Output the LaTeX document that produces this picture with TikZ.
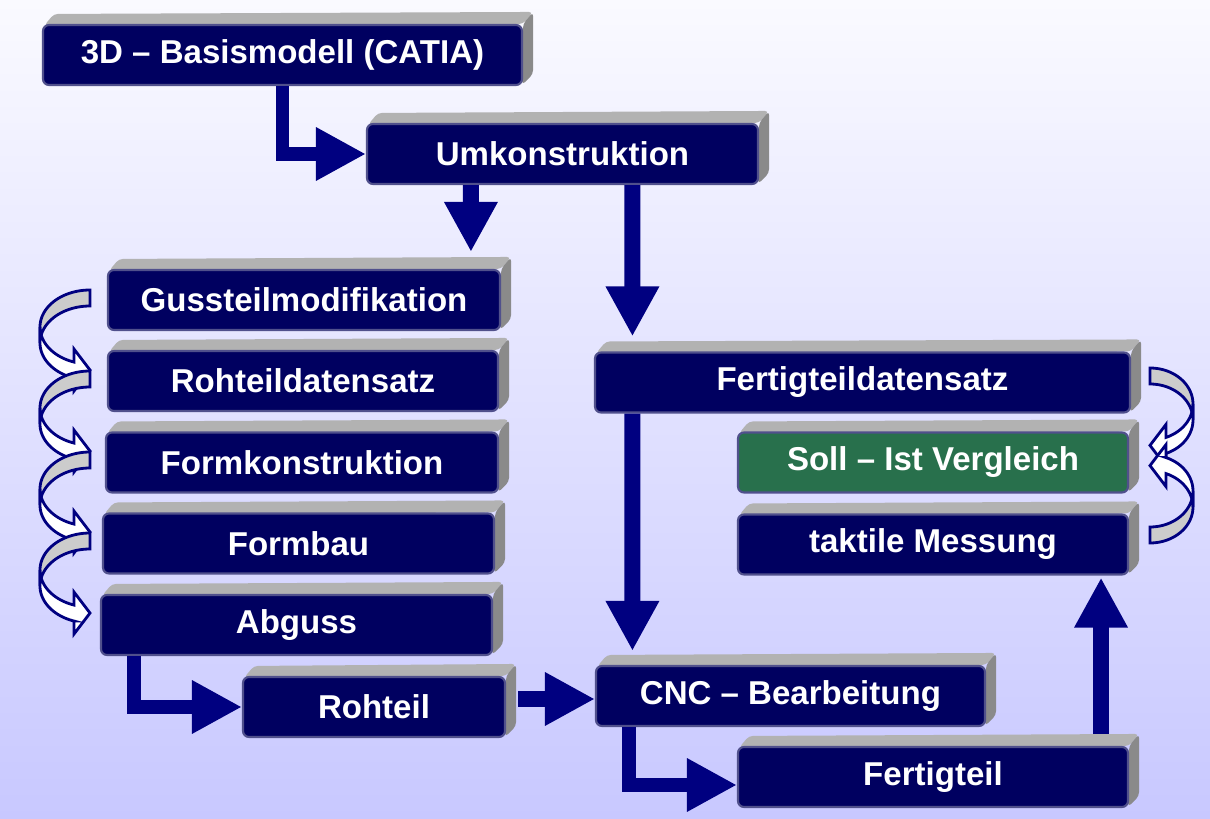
\documentclass[tikz,border=0pt]{standalone}
\usepackage{fontspec}
\setmainfont{Liberation Sans}
\usetikzlibrary{arrows.meta,calc}
\definecolor{boxnavy}{RGB}{0,0,96}
\definecolor{boxedge}{RGB}{80,80,140}
\definecolor{arrownavy}{RGB}{0,0,128}
\definecolor{sollgreen}{RGB}{40,112,76}
\definecolor{slabtop}{RGB}{178,178,178}
\definecolor{slabside}{RGB}{138,138,138}
\definecolor{bendgray}{RGB}{204,204,204}
\definecolor{bgtop}{RGB}{250,250,255}
\definecolor{bgbottom}{RGB}{200,200,255}
\pgfdeclarelayer{background}
\pgfsetlayers{background,main}

% #1,#2 start of the band, #3,#4 directions, #5,#6 radii
\newcommand{\bendarrow}[6]{%
  \pgfmathsetmacro{\be}{acos(-16/#5)}%
  \pgfmathsetmacro{\ya}{#2+(#4)*#6*(1+sin(\be))}%
  \pgfmathsetmacro{\yb}{\ya+(#4)*16}%
  \pgfmathsetmacro{\ym}{(\ya+\yb)/2}%
  \pgfmathsetmacro{\hx}{#1-(#3)*16}%
  \filldraw[bendback] plot[domain=270:180,samples=30] ({#1+(#3)*#5*cos(\x)},{#2+(#4)*#6*(1+sin(\x))})
    -- plot[domain=180:270,samples=30] ({#1+(#3)*#5*cos(\x)},{#2+(#4)*16+(#4)*#6*(1+sin(\x))}) -- cycle;
  \filldraw[bendfront] plot[domain=180:\be,samples=30] ({#1+(#3)*#5*cos(\x)},{#2+(#4)*#6*(1+sin(\x))})
    -- (\hx,{\ym-(#4)*21}) -- (#1,\ym) -- (\hx,{\ym+(#4)*21}) -- (\hx,\yb)
    -- plot[domain=\be:180,samples=30] ({#1+(#3)*#5*cos(\x)},{#2+(#4)*16+(#4)*#6*(1+sin(\x))}) -- cycle;
}

\begin{document}
\begin{tikzpicture}[x=0.1mm,y=-0.1mm,
  box/.style={draw=boxedge, line width=0.6pt, fill=boxnavy, rounded corners=0.6mm,
    minimum height=6mm, inner sep=0pt, text=white, font=\fontsize{9.4}{11}\selectfont\bfseries},
  flow/.style={arrownavy, line width=1.6mm, -{Triangle[length=5mm,width=5mm]}},
  flowL/.style={flow, line width=1.35mm},
  bendback/.style={fill=bendgray, draw=arrownavy, line width=0.8pt},
  bendfront/.style={fill=white, draw=arrownavy, line width=0.8pt}]
\useasboundingbox (0,0) rectangle (1210,819);

\node[box, minimum width=47.9mm] (basis) at (282.5,55) {3D -- Basismodell (CATIA)};
\node[box, minimum width=39.1mm] (umk) at (562.5,154) {Umkonstruktion};
\node[box, minimum width=39.2mm] (guss) at (304,300) {Gussteilmodifikation};
\node[box, minimum width=39mm] (rtds) at (303,381) {Rohteildatensatz};
\node[box, minimum width=39.2mm] (formk) at (302,462.5) {Formkonstruktion};
\node[box, minimum width=39.1mm] (formbau) at (298.5,543.5) {Formbau};
\node[box, minimum width=39.1mm] (abguss) at (296.5,625) {Abguss};
\node[box, minimum width=26.2mm] (rohteil) at (374,707) {Rohteil};
\node[box, minimum width=38.9mm] (cnc) at (790.5,696) {CNC -- Bearbeitung};
\node[box, minimum width=53.5mm] (fds) at (862.5,382.5) {Fertigteildatensatz};
\node[box, minimum width=39mm, fill=sollgreen] (soll) at (933,462.5) {Soll -- Ist Vergleich};
\node[box, minimum width=39mm] (takt) at (933,544.5) {taktile Messung};
\node[box, minimum width=39mm] (ft) at (933,777) {Fertigteil};

\begin{pgfonlayer}{background}
\fill[top color=bgtop, bottom color=bgbottom] (0,0) rectangle (1210,819);
\foreach \n in {basis,umk,guss,rtds,formk,formbau,abguss,rohteil,cnc,fds,soll,takt,ft}{
  \fill[slabtop, rounded corners=0.4mm] ($(\n.north west)+(2,2)$) -- ($(\n.north west)+(12,-10)$)
    -- ($(\n.north east)+(10,-12)$) -- (\n.north east) -- cycle;
  \fill[slabside, rounded corners=0.4mm] (\n.north east) -- ($(\n.north east)+(10,-12)$)
    -- ($(\n.south east)+(10,-12)$) -- ($(\n.south east)+(-1,-1)$) -- cycle;
}
\end{pgfonlayer}

\draw[flowL] (basis.south) |- (umk.west);
\draw[flow] ($(umk.south west)+(105,0)$) -- ($(guss.north west)+(364,-17)$);
\draw[flow] ($(umk.south west)+(266.5,0)$) -- ($(fds.north west)+(38.5,-15)$);
\draw[flow] ($(fds.south west)+(38.5,0)$) -- ($(cnc.north west)+(37.5,-14)$);
\draw[flowL] ($(abguss.south west)+(34,0)$) |- (rohteil.west);
\draw[flow] ($(rohteil.east)+(12,-8)$) -- ($(cnc.west)+(0,3)$);
\draw[flowL] ($(cnc.south west)+(34,0)$) |- ($(ft.west)+(0,8)$);
\draw[flow] ($(ft.north east)+(-28,-12)$) -- ($(takt.south east)+(-28,2)$);

\foreach \i in {0,...,3}{
  \bendarrow{90}{290+81*\i}{1}{1}{50}{37}
}
\bendarrow{1150}{368}{-1}{1}{43}{36}
\bendarrow{1150}{543}{-1}{-1}{43}{36}
\end{tikzpicture}
\end{document}
